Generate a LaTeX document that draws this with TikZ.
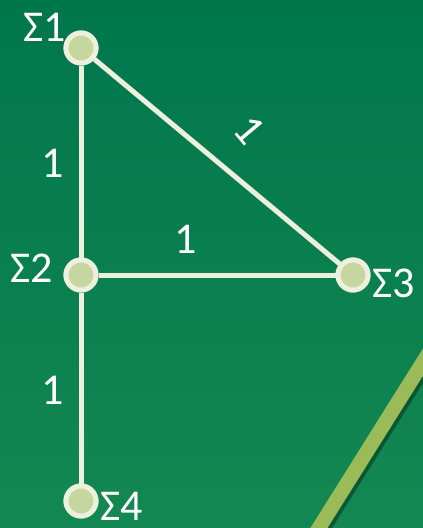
\documentclass[tikz,border=0pt]{standalone}
\usepackage{fontspec}
\setmainfont{Carlito}
\definecolor{bgtop}{HTML}{00764D}
\definecolor{bgbot}{HTML}{138852}
\definecolor{edgecol}{HTML}{ECF0DC}
\definecolor{nodefill}{HTML}{C5D79F}
\definecolor{olive}{HTML}{9BBB59}
\definecolor{shade}{HTML}{0A6A40}
\tikzset{
  vert/.style={circle, draw=edgecol, fill=nodefill, line width=5pt, minimum size=30pt, inner sep=0pt},
  edge/.style={draw=edgecol, line width=5pt},
  lbl/.style={text=white, font=\fontsize{44}{44}\selectfont, inner sep=0pt}
}
\begin{document}
\begin{tikzpicture}[x=1pt,y=-1pt]
\useasboundingbox (0,0) rectangle (423,528);
\shade[top color=bgtop, bottom color=bgbot] (0,0) rectangle (423,528);
% olive stripe with soft shadow
\coordinate (s1) at (440,335);
\coordinate (s2) at (302,555);
\coordinate (t1) at (443,337);
\coordinate (t2) at (305,557);
\draw[shade, line width=15pt, opacity=0.35] (t1) -- (t2);
\draw[olive, line width=14.5pt] (s1) -- (s2);
% nodes
\node[vert] (n1) at (81,48) {};
\node[vert] (n2) at (81,275) {};
\node[vert] (n3) at (353,275) {};
\node[vert] (n4) at (81,501) {};
% edges
\path[edge] (n1) -- (n2);
\path[edge] (n2) -- (n3);
\path[edge] (n1) -- (n3);
\path[edge] (n2) -- (n4);
% redraw nodes on top
\node[vert] at (n1) {};
\node[vert] at (n2) {};
\node[vert] at (n3) {};
\node[vert] at (n4) {};
% node labels
\node[lbl] (l1) at (45,27) {Σ1};
\node[lbl] (l2) at (32,268) {Σ2};
\node[lbl] (l3) at (394,283) {Σ3};
\node[lbl] (l4) at (122,506) {Σ4};
% edge labels
\node[lbl] (e12) at (53,163) {1};
\node[lbl] (e23) at (186,239) {1};
\node[lbl] (e24) at (53,390) {1};
\node[lbl, rotate=-50] (e13) at (250,130) {1};
\end{tikzpicture}
\end{document}
